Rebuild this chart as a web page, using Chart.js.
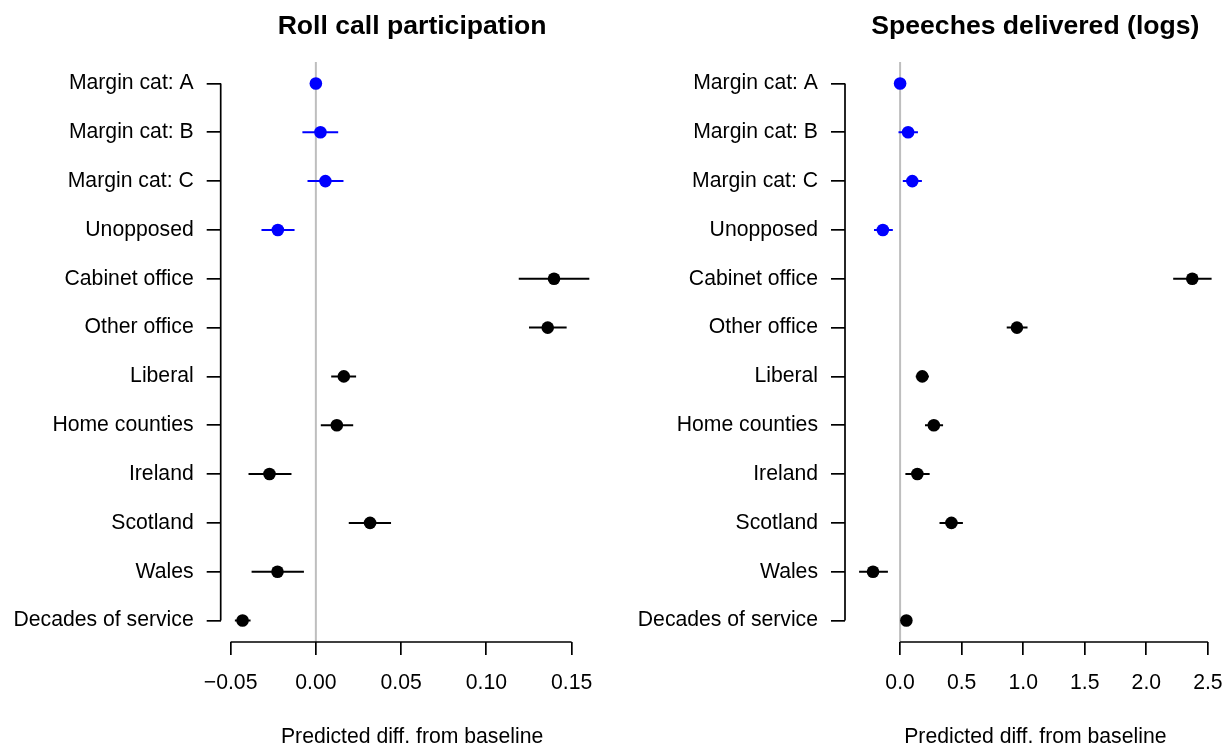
<!DOCTYPE html>
<html>
<head>
<meta charset="utf-8">
<title>Predicted differences from baseline</title>
<script src="https://cdn.jsdelivr.net/npm/chart.js@4.4.1/dist/chart.umd.min.js"></script>
<style>
  html, body { margin: 0; padding: 0; background: #fff; }
  #wrap { position: relative; width: 1232px; height: 748px; }
  .panel { position: absolute; top: 0; width: 616px; height: 748px; }
</style>
</head>
<body>
<div id="wrap">
  <div class="panel" style="left:0"><canvas id="rollChart" width="616" height="748"></canvas></div>
  <div class="panel" style="left:616px"><canvas id="speechChart" width="616" height="748"></canvas></div>
</div>
<script>
// rows, top to bottom
const rowLabels = ['Margin cat: A', 'Margin cat: B', 'Margin cat: C', 'Unopposed',
    'Cabinet office', 'Other office', 'Liberal', 'Home counties',
    'Ireland', 'Scotland', 'Wales', 'Decades of service'];
const rowGroup = ['margin', 'margin', 'margin', 'margin',
    'member', 'member', 'member', 'member', 'member', 'member', 'member', 'member'];

// Roll call participation
const rollEst = [0, 0.0027, 0.0056, -0.0223, 0.1397, 0.1360, 0.0164, 0.0123, -0.0272, 0.0318, -0.0225, -0.0430];
const rollLo  = [0, -0.0079, -0.0049, -0.0319, 0.1190, 0.1250, 0.0090, 0.0029, -0.0395, 0.0193, -0.0377, -0.0475];
const rollHi  = [0, 0.0131, 0.0162, -0.0125, 0.1604, 0.1471, 0.0236, 0.0219, -0.0143, 0.0441, -0.0070, -0.0383];
const rollTicks = [-0.05, 0, 0.05, 0.10, 0.15];

// Speeches delivered (logs)
const speechEst = [0, 0.065, 0.099, -0.140, 2.373, 0.949, 0.180, 0.274, 0.140, 0.417, -0.220, 0.051];
const speechLo  = [0, -0.013, 0.022, -0.212, 2.218, 0.866, 0.127, 0.202, 0.043, 0.320, -0.333, 0.035];
const speechHi  = [0, 0.145, 0.177, -0.059, 2.530, 1.035, 0.234, 0.349, 0.240, 0.510, -0.099, 0.067];
const speechTicks = [0, 0.5, 1.0, 1.5, 2.0, 2.5];

const FONT = "'Liberation Sans', Arial, Helvetica, sans-serif";
const LAB = 21.2;
const AX_LW = 1.7;
const groupColor = { margin: '#0000ff', member: '#000000' };

Chart.defaults.font.family = FONT;
Chart.defaults.color = '#000';

// R-style axis lines (first to last tick) and panel title
const rStyle = {
    id: 'rStyle',
    afterDraw(chart, args, opts) {
        const { ctx, chartArea, scales: { x, y } } = chart;
        const xt = x.ticks, yt = y.ticks;
        ctx.save();
        ctx.strokeStyle = '#000';
        ctx.lineWidth = AX_LW;
        ctx.beginPath();
        ctx.moveTo(x.getPixelForValue(xt[0].value), chartArea.bottom);
        ctx.lineTo(x.getPixelForValue(xt[xt.length - 1].value), chartArea.bottom);
        ctx.moveTo(chartArea.left, y.getPixelForValue(yt[0].value));
        ctx.lineTo(chartArea.left, y.getPixelForValue(yt[yt.length - 1].value));
        ctx.stroke();

        ctx.fillStyle = '#000';
        ctx.font = 'bold 26.6px ' + FONT;
        ctx.textAlign = 'center';
        ctx.textBaseline = 'alphabetic';
        ctx.fillText(opts.text, (chartArea.left + chartArea.right) / 2, 33.5);
        ctx.restore();
    }
};

function ciData(lo, hi, group) {
    const out = [];
    rowLabels.forEach((_, i) => {
        if (rowGroup[i] !== group) return;
        out.push({ x: lo[i], y: i + 1 }, { x: hi[i], y: i + 1 }, { x: hi[i], y: null });
    });
    return out;
}

function makePanel(canvasId, title, est, lo, hi, ticks, decimals, axisWidth, padRight) {
    const all = lo.concat(hi, est);
    const dMin = Math.min(...all), dMax = Math.max(...all);
    const ext = 0.04 * (dMax - dMin);
    const yExt = 0.04 * (rowLabels.length - 1);

    const canvas = document.getElementById(canvasId);
    return new Chart(canvas.getContext('2d'), {
        data: {
            datasets: [
                {
                    type: 'scatter',
                    data: est.map((v, i) => ({ x: v, y: i + 1 })),
                    pointBackgroundColor: rowGroup.map(g => groupColor[g]),
                    pointBorderWidth: 0,
                    pointRadius: 6.3,
                    order: 0
                },
                {
                    type: 'line',
                    data: ciData(lo, hi, 'margin'),
                    borderColor: groupColor.margin,
                    borderWidth: 2,
                    pointRadius: 0,
                    spanGaps: false,
                    order: 1
                },
                {
                    type: 'line',
                    data: ciData(lo, hi, 'member'),
                    borderColor: groupColor.member,
                    borderWidth: 2,
                    pointRadius: 0,
                    spanGaps: false,
                    order: 1
                },
                {
                    type: 'line',
                    data: [{ x: 0, y: 1 - yExt }, { x: 0, y: rowLabels.length + yExt }],
                    borderColor: '#bebebe',
                    borderWidth: 2,
                    pointRadius: 0,
                    order: 2
                }
            ]
        },
        options: {
            responsive: false,
            animation: false,
            devicePixelRatio: 1,
            layout: { padding: { top: 62, right: padRight, left: 0, bottom: 0 } },
            plugins: {
                legend: { display: false },
                tooltip: { enabled: false },
                rStyle: { text: title }
            },
            scales: {
                x: {
                    type: 'linear',
                    position: 'bottom',
                    min: dMin - ext,
                    max: dMax + ext,
                    afterBuildTicks: s => { s.ticks = ticks.map(v => ({ value: v })); },
                    afterFit: s => { s.height = 106; s.paddingLeft = 0; s.paddingRight = 0; },
                    border: { display: false },
                    grid: { drawOnChartArea: false, drawTicks: true, tickLength: 13, color: '#000', lineWidth: AX_LW },
                    ticks: {
                        autoSkip: false,
                        maxRotation: 0,
                        padding: 15,
                        font: { size: LAB },
                        callback: v => v.toFixed(decimals).replace('-', '\u2212')
                    },
                    title: {
                        display: true,
                        text: 'Predicted diff. from baseline',
                        font: { size: LAB, lineHeight: 1 },
                        padding: 0
                    }
                },
                y: {
                    type: 'linear',
                    position: 'left',
                    reverse: true,
                    min: 1 - yExt,
                    max: rowLabels.length + yExt,
                    afterBuildTicks: s => { s.ticks = rowLabels.map((_, i) => ({ value: i + 1 })); },
                    afterFit: s => { s.width = axisWidth; s.paddingTop = 0; s.paddingBottom = 0; },
                    border: { display: false },
                    grid: { drawOnChartArea: false, drawTicks: true, tickLength: 14, color: '#000', lineWidth: AX_LW },
                    ticks: {
                        autoSkip: false,
                        padding: 13,
                        font: { size: LAB },
                        callback: v => rowLabels[Math.round(v) - 1]
                    }
                }
            }
        },
        plugins: [rStyle]
    });
}

makePanel('rollChart', 'Roll call participation', rollEst, rollLo, rollHi, rollTicks, 2, 220.7, 12.5);
makePanel('speechChart', 'Speeches delivered (logs)', speechEst, speechLo, speechHi, speechTicks, 1, 229, 4);
</script>
</body>
</html>
